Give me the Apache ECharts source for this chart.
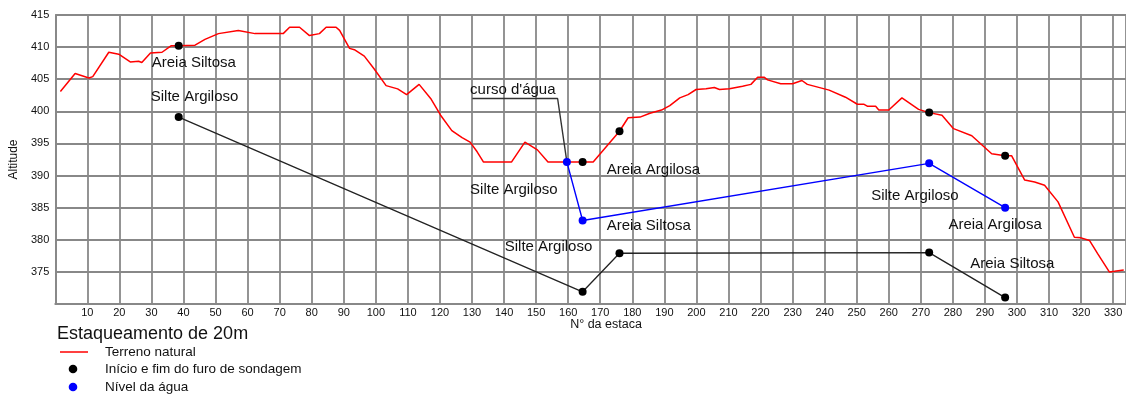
<!DOCTYPE html>
<html>
<head>
<meta charset="utf-8">
<script src="https://cdn.jsdelivr.net/npm/echarts@6/dist/echarts.min.js"></script>
<style>
  html, body { margin: 0; padding: 0; background: #fff; }
  #chart { width: 1126px; height: 394px; }
</style>
</head>
<body>
<div id="chart"></div>
<script>
// Terrain profile: [station number, altitude]
const terrain = [
  [1.6,403.1],[6.2,405.9],[10.5,405.2],[11.7,405.4],[16.7,409.2],[19.8,408.9],[23.4,407.7],
  [26,407.8],[27,407.6],[29.7,409.1],[33.3,409.2],[36.1,410.2],[38.5,410.2],[43.6,410.3],
  [46.7,411.2],[50.9,412.1],[57.1,412.6],[62.3,412.1],[71.1,412.1],[73.1,413.1],[76.2,413.1],
  [79.3,411.8],[82.4,412.1],[84.5,413.1],[87.6,413.1],[88.7,412.6],[91.8,409.8],[93.3,409.6],
  [96.4,408.6],[99.5,406.6],[103.2,404.0],[106.8,403.5],[109.6,402.6],[113.5,404.2],[117.1,402.0],
  [120.2,399.4],[123.7,397.0],[126.9,395.9],[129.4,395.2],[131.6,393.7],[133.6,392.1],[142.3,392.1],
  [146.5,395.2],[150.4,394.0],[153.7,392.1],[159.6,392.1],[164.5,392.1],[167.8,392.1],[176,396.9],
  [178.7,399.0],[182.4,399.1],[185.5,399.7],[189.1,400.2],[191.7,400.9],[194.8,402.1],[197.4,402.6],
  [199.9,403.4],[203,403.5],[205.6,403.7],[207.2,403.4],[210.3,403.5],[214.4,403.9],[217,404.2],
  [219.1,405.3],[221.2,405.3],[222.2,404.9],[226.3,404.3],[230,404.3],[232.9,404.8],[234.6,404.2],
  [241.4,403.3],[246.5,402.2],[250.2,401.1],[252.3,401.1],[253.3,400.8],[255.9,400.8],[256.9,400.2],
  [260,400.2],[264.1,402.1],[269.3,400.3],[272.6,399.8],[276.6,399.4],[280.2,397.3],[285.9,396.2],
  [292.1,393.4],[296.3,393.1],[298.3,393.1],[302.4,389.3],[305.5,389.0],[308.6,388.5],[312.8,385.9],
  [317.9,380.4],[320,380.3],[322.6,379.9],[325.2,377.8],[328.8,375.0],[330.4,375.1],[333.3,375.3]
];

// Boreholes: start (ground) and end of each sounding
const boreTops = [[38.5,410.2],[164.5,392.1],[176,396.9],[272.6,399.8],[296.3,393.1]];
const boreBottoms = [[38.5,399.1],[164.5,371.9],[176,377.9],[272.6,378.0],[296.3,371.0]];

// Water table
const waterLevel = [[159.6,392.1],[164.5,383.0],[272.6,391.9],[296.3,385.0]];

// Stream crossing leader line
const streamLeader = [[130.1,402.0],[156.7,402.0],[159.6,392.1]];

// Soil layer annotations: [station, altitude, text]
const soilLabels = [
  [30.1,407.6,'Areia Siltosa'],
  [29.8,402.2,'Silte Argiloso'],
  [129.4,403.3,"curso d'água"],
  [129.4,387.7,'Silte Argiloso'],
  [172.0,390.9,'Areia Argilosa'],
  [172.0,382.1,'Areia Siltosa'],
  [140.2,378.9,'Silte Argiloso'],
  [254.5,386.8,'Silte Argiloso'],
  [278.6,382.4,'Areia Argilosa'],
  [285.4,376.3,'Areia Siltosa']
];

// Axis ticks
const xTickStep = 10;
const yTicks = [375, 380, 385, 390, 395, 400, 405, 410, 415];

const FONT = '"Liberation Sans", Arial, sans-serif';
const GRID_COLOR = '#888888';
const TEXT_COLOR = '#111111';

const chart = echarts.init(document.getElementById('chart'), null, { renderer: 'canvas' });

chart.setOption({
  animation: false,
  backgroundColor: '#ffffff',
  grid: { left: 50, right: 0, top: 15, bottom: 90, containLabel: false },
  xAxis: {
    type: 'value',
    min: 0,
    max: 334,
    interval: xTickStep,
    axisLine: { show: true, lineStyle: { color: GRID_COLOR, width: 1.8 } },
    axisTick: { show: false },
    splitLine: { show: true, lineStyle: { color: GRID_COLOR, width: 1.8 } },
    axisLabel: {
      margin: 3,
      fontFamily: FONT,
      fontSize: 11,
      color: TEXT_COLOR,
      showMaxLabel: false,
      formatter: v => (v > 0 && v % xTickStep === 0) ? String(v) : ''
    }
  },
  yAxis: {
    type: 'value',
    min: 370,
    max: 415,
    interval: 5,
    name: 'Altitude',
    nameLocation: 'middle',
    nameRotate: 90,
    nameGap: 27,
    nameTextStyle: { fontFamily: FONT, fontSize: 12, color: TEXT_COLOR },
    axisLine: { show: true, lineStyle: { color: GRID_COLOR, width: 1.8 } },
    axisTick: { show: false },
    splitLine: { show: true, lineStyle: { color: GRID_COLOR, width: 1.8 } },
    axisLabel: {
      margin: 6,
      fontFamily: FONT,
      fontSize: 11,
      color: TEXT_COLOR,
      formatter: v => yTicks.includes(v) ? String(v) : ''
    }
  },
  graphic: [
    { type: 'text', x: 606, y: 325,
      style: { text: 'N° da estaca', font: '12.5px ' + FONT, fill: TEXT_COLOR, textAlign: 'center', textVerticalAlign: 'middle' } },
    { type: 'text', x: 57, y: 334,
      style: { text: 'Estaqueamento de 20m', font: '18px ' + FONT, fill: TEXT_COLOR, textVerticalAlign: 'middle' } },
    { type: 'line', shape: { x1: 60, y1: 352, x2: 88, y2: 352 }, style: { stroke: '#ff0000', lineWidth: 1.5 } },
    { type: 'text', x: 105, y: 352,
      style: { text: 'Terreno natural', font: '13.5px ' + FONT, fill: TEXT_COLOR, textVerticalAlign: 'middle' } },
    { type: 'circle', shape: { cx: 73, cy: 369, r: 4.3 }, style: { fill: '#000' } },
    { type: 'text', x: 105, y: 369,
      style: { text: 'Início e fim do furo de sondagem', font: '13.5px ' + FONT, fill: TEXT_COLOR, textVerticalAlign: 'middle' } },
    { type: 'circle', shape: { cx: 73, cy: 387, r: 4.3 }, style: { fill: '#0000ff' } },
    { type: 'text', x: 105, y: 387,
      style: { text: 'Nível da água', font: '13.5px ' + FONT, fill: TEXT_COLOR, textVerticalAlign: 'middle' } }
  ],
  series: [
    {
      name: 'Terreno natural',
      type: 'line',
      data: terrain,
      showSymbol: false,
      symbol: 'none',
      lineStyle: { color: '#ff0000', width: 1.5 },
      z: 3
    },
    {
      name: 'Curso d\'água',
      type: 'line',
      data: streamLeader,
      symbol: 'none',
      lineStyle: { color: '#333', width: 1.4 },
      z: 4
    },
    {
      name: 'Fundo dos furos',
      type: 'line',
      data: boreBottoms,
      symbol: 'circle',
      symbolSize: 8,
      itemStyle: { color: '#000', opacity: 1 },
      lineStyle: { color: '#222', width: 1.3 },
      z: 5
    },
    {
      name: 'Nível da água',
      type: 'line',
      data: waterLevel,
      symbol: 'circle',
      symbolSize: 8,
      itemStyle: { color: '#0000ff', opacity: 1 },
      lineStyle: { color: '#0000ff', width: 1.4 },
      z: 6
    },
    {
      name: 'Início dos furos',
      type: 'scatter',
      data: boreTops,
      symbol: 'circle',
      symbolSize: 8,
      itemStyle: { color: '#000', opacity: 1 },
      z: 7
    },
    {
      name: 'Camadas',
      type: 'scatter',
      data: soilLabels.map(d => ({ value: [d[0], d[1]], name: d[2] })),
      symbolSize: 0,
      silent: true,
      itemStyle: { opacity: 1 },
      label: {
        show: true,
        position: 'right',
        distance: 0,
        formatter: p => p.name,
        fontFamily: FONT,
        fontSize: 15,
        color: TEXT_COLOR
      },
      z: 8
    }
  ]
});
</script>
</body>
</html>
